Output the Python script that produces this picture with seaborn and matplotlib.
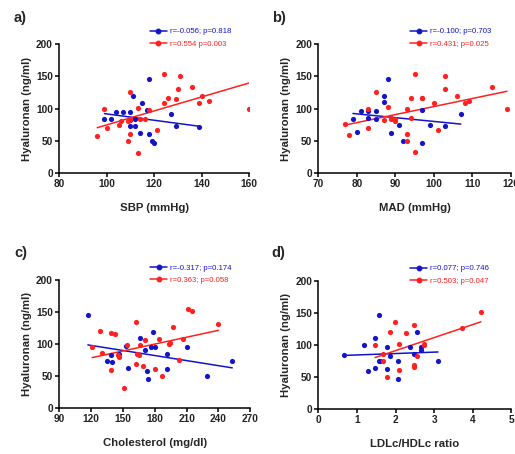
import matplotlib
matplotlib.use("Agg")
import matplotlib.pyplot as plt
from matplotlib.lines import Line2D
import seaborn as sns
import pandas as pd

# ---- data -------------------------------------------------------------
# a) SBP
sbp_blue_x = [99, 102, 104, 107, 110, 110, 111, 110, 112, 112, 114, 115, 117, 118, 118, 119, 120, 127, 129, 139]
sbp_blue_y = [83, 84, 95, 95, 95, 73, 120, 82, 83, 73, 62, 109, 97, 145, 61, 50, 46, 91, 73, 71]
sbp_red_x = [96, 99, 100, 105, 106, 109, 110, 109, 110, 110, 113, 113, 114, 116, 118, 121, 124, 124, 126, 129, 130, 131, 136, 139, 140, 143, 160]
sbp_red_y = [58, 99, 69, 75, 80, 81, 84, 50, 60, 125, 101, 31, 84, 84, 98, 66, 154, 109, 116, 115, 130, 151, 133, 108, 119, 111, 99]

# b) MAD
mad_blue_x = [79, 80, 81, 83, 83, 85, 85, 87, 87, 88, 89, 91, 92, 97, 97, 99, 103, 107]
mad_blue_y = [84, 63, 96, 96, 85, 96, 83, 120, 110, 146, 62, 74, 50, 98, 47, 74, 73, 92]
mad_red_x = [77, 78, 83, 83, 85, 87, 88, 89, 89, 90, 90, 93, 93, 93, 94, 94, 95, 95, 97, 97, 100, 101, 103, 103, 106, 108, 109, 115, 119]
mad_red_y = [76, 59, 100, 70, 125, 82, 102, 83, 86, 83, 81, 99, 61, 50, 116, 85, 154, 32, 116, 116, 109, 67, 151, 130, 120, 108, 111, 134, 100]

# c) Cholesterol
chol_blue_x = [117, 135, 140, 139, 146, 153, 155, 166, 178, 171, 176, 180, 173, 174, 192, 192, 210, 229, 253]
chol_blue_y = [146, 73, 72, 83, 84, 97, 62, 109, 119, 91, 95, 95, 58, 45, 84, 61, 95, 49, 73]
chol_red_x = [121, 128, 130, 139, 143, 139, 145, 146, 151, 154, 162, 163, 165, 162, 166, 169, 171, 180, 184, 187, 193, 194, 197, 203, 207, 211, 215, 240]
chol_red_y = [95, 120, 85, 117, 116, 59, 83, 80, 31, 99, 134, 84, 83, 69, 99, 66, 106, 61, 108, 50, 100, 102, 126, 75, 108, 155, 151, 131]

# d) LDLc/HDLc ratio
ratio_blue_x = [0.67, 1.18, 1.28, 1.47, 1.47, 1.57, 1.57, 1.60, 1.77, 1.77, 1.87, 2.06, 2.06, 2.37, 2.47, 2.56, 2.67, 2.67, 3.10]
ratio_blue_y = [84, 99, 59, 64, 110, 146, 74, 75, 96, 62, 83, 74, 46, 96, 86, 120, 96, 92, 74]
ratio_red_x = [1.47, 1.68, 1.68, 1.77, 1.87, 1.98, 2.08, 2.08, 2.27, 2.47, 2.47, 2.47, 2.56, 2.73, 2.73, 3.71, 4.21]
ratio_red_y = [99, 85, 75, 50, 120, 135, 102, 61, 118, 131, 69, 65, 83, 102, 99, 126, 152]

panel_letters = ["a)", "b)", "c)", "d)"]
x_labels = ["SBP (mmHg)", "MAD (mmHg)", "Cholesterol (mg/dl)", "LDLc/HDLc ratio"]
y_label = "Hyaluronan (ng/ml)"
x_ticks = [[80, 100, 120, 140, 160], [70, 80, 90, 100, 110, 120],
           [90, 120, 150, 180, 210, 240, 270], [0, 1, 2, 3, 4, 5]]
y_ticks = [0, 50, 100, 150, 200]
legend_texts = [["r=-0.056; p=0.818", "r=0.554 p=0.003"],
                ["r=-0.100; p=0.703", "r=0.431; p=0.025"],
                ["r=-0.317; p=0.174", "r=0.363; p=0.058"],
                ["r=0.077; p=0.746", "r=0.503; p=0.047"]]

panels = [
    (sbp_blue_x, sbp_blue_y, sbp_red_x, sbp_red_y),
    (mad_blue_x, mad_blue_y, mad_red_x, mad_red_y),
    (chol_blue_x, chol_blue_y, chol_red_x, chol_red_y),
    (ratio_blue_x, ratio_blue_y, ratio_red_x, ratio_red_y),
]

BLUE = "#1414c8"
RED = "#ff2020"

# ---- figure -----------------------------------------------------------
sns.set_style("ticks")
plt.rcParams["font.family"] = ["Liberation Sans", "DejaVu Sans"]

fig = plt.figure(figsize=(5.15, 4.54), dpi=100)
boxes = [
    [0.115, 0.619, 0.369, 0.284],
    [0.618, 0.619, 0.374, 0.284],
    [0.115, 0.102, 0.371, 0.281],
    [0.618, 0.100, 0.375, 0.281],
]
letter_pos = [(0.040, 0.960), (0.541, 0.960), (0.040, 0.443), (0.541, 0.443)]

for i, (bx, by, rx, ry) in enumerate(panels):
    ax = fig.add_axes(boxes[i])
    for xs, ys, col in ((bx, by, BLUE), (rx, ry, RED)):
        df = pd.DataFrame({"x": xs, "y": ys})
        sns.regplot(data=df, x="x", y="y", ax=ax, ci=None, truncate=True,
                    color=col,
                    scatter_kws=dict(s=14, linewidths=0, alpha=1, zorder=3),
                    line_kws=dict(lw=1.1, zorder=2))
    ax.set_xlim(x_ticks[i][0], x_ticks[i][-1])
    ax.set_ylim(0, 200)
    ax.set_xticks(x_ticks[i])
    ax.set_yticks(y_ticks)
    ax.set_xlabel(x_labels[i], fontsize=8.2, fontweight="bold", labelpad=10)
    ax.set_ylabel(y_label, fontsize=8.2, fontweight="bold", labelpad=3)
    for lab in ax.get_xticklabels() + ax.get_yticklabels():
        lab.set_fontweight("bold")
    ax.tick_params(axis="both", labelsize=7.3, length=3, width=1.1, pad=1.5,
                   color="black", labelcolor="#222222")
    for side in ("left", "bottom"):
        ax.spines[side].set_linewidth(1.1)
        ax.spines[side].set_color("black")
    sns.despine(ax=ax)

    handles = [Line2D([], [], color=BLUE, marker="o", markersize=3.2, lw=1.1),
               Line2D([], [], color=RED, marker="o", markersize=3.2, lw=1.1)]
    leg = ax.legend(handles, legend_texts[i], loc="upper left",
                    bbox_to_anchor=(0.46, 1.15), frameon=False,
                    fontsize=5.6, handlelength=2.2, handletextpad=0.4,
                    labelspacing=0.65, borderaxespad=0)
    for txt, col in zip(leg.get_texts(), (BLUE, RED)):
        txt.set_color(col)

    fig.text(letter_pos[i][0], letter_pos[i][1], panel_letters[i],
             fontsize=10.5, fontweight="bold", ha="center", va="center")

fig.savefig("out.png", dpi=100)
